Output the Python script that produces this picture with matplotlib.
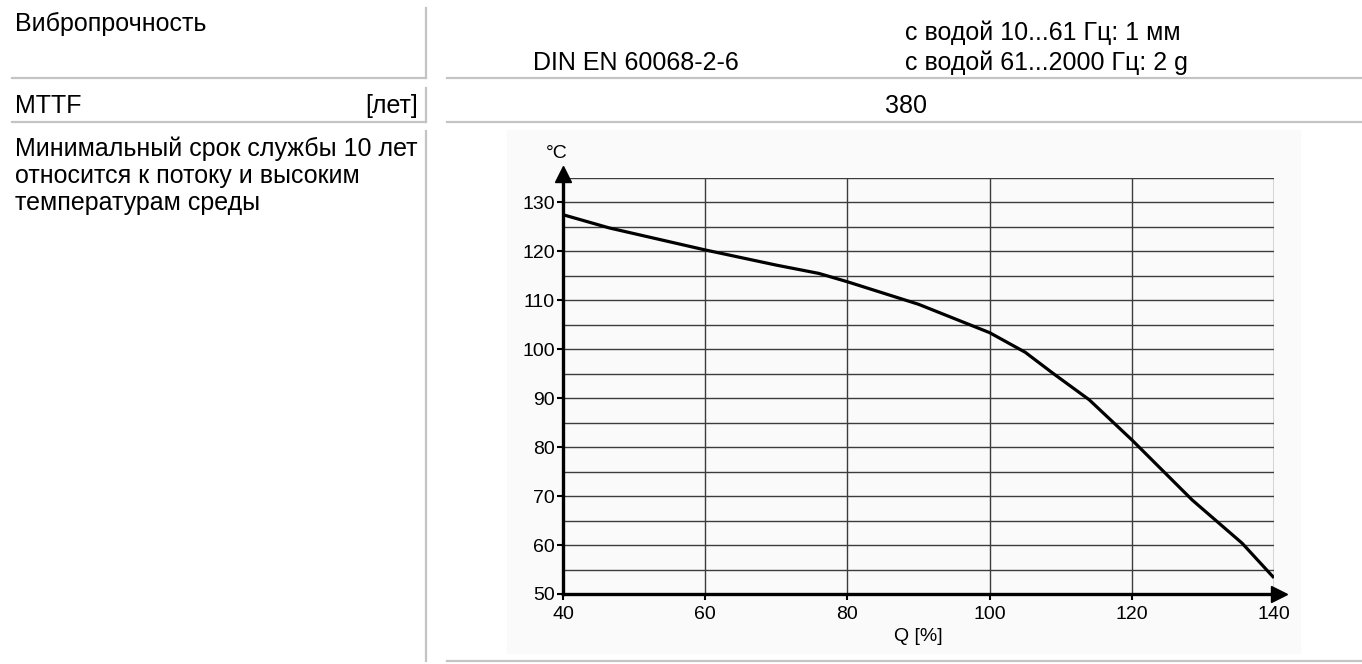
import matplotlib.pyplot as plt
from matplotlib.lines import Line2D
from matplotlib.patches import Rectangle

plt.rcParams['font.family'] = ['Liberation Sans', 'DejaVu Sans']

# curve: flow Q [%] vs medium temperature [°C]
flow = [40, 46.5, 60, 70, 76, 80, 90, 100, 105, 109, 114, 120, 128.5, 135.5, 140]
temp = [127.5, 124.8, 120.3, 117.2, 115.5, 113.8, 109.2, 103.4, 99.4, 95.0, 89.7, 81.5, 69.2, 60.4, 53.3]

x_ticks = [40, 60, 80, 100, 120, 140]
y_ticks = [50, 60, 70, 80, 90, 100, 110, 120, 130]
h_grid = [55, 60, 65, 70, 75, 80, 85, 90, 95, 100, 105, 110, 115, 120, 125, 130, 135]

note_lines = ['Минимальный срок службы 10 лет', 'относится к потоку и высоким', 'температурам среды']

W, H = 1362, 664
fig = plt.figure(figsize=(W / 100, H / 100), dpi=100)


def fx(px):
    return px / W


def fy(py):
    return 1 - py / H


def hline(x0, x1, y):
    fig.add_artist(Line2D([fx(x0), fx(x1)], [fy(y), fy(y)], color='#c4c4c4', lw=1.6))


def vline(x, y0, y1):
    fig.add_artist(Line2D([fx(x), fx(x)], [fy(y0), fy(y1)], color='#c4c4c4', lw=1.6))


# table lines
hline(12, 426, 78)
hline(447, W, 78)
hline(12, 426, 122)
hline(447, W, 122)
hline(447, W, 661)
vline(426, 8, 78)
vline(426, 88, 122)
vline(426, 131, 661)

fs = 18
fig.text(fx(15), fy(31), 'Вибропрочность', fontsize=fs, va='baseline')
fig.text(fx(533), fy(70), 'DIN EN 60068-2-6', fontsize=fs, va='baseline')
fig.text(fx(905), fy(40), 'с водой 10...61 Гц: 1 мм', fontsize=fs, va='baseline')
fig.text(fx(905), fy(70), 'с водой 61...2000 Гц: 2 g', fontsize=fs, va='baseline')
fig.text(fx(15), fy(113), 'MTTF', fontsize=fs, va='baseline')
fig.text(fx(418), fy(113), '[лет]', fontsize=fs, va='baseline', ha='right')
fig.text(fx(906), fy(113), '380', fontsize=fs, va='baseline', ha='center')
for i, line in enumerate(note_lines):
    fig.text(fx(15), fy(156 + 27 * i), line, fontsize=fs, va='baseline')

# faint picture background
fig.add_artist(Rectangle((fx(507), fy(653)), fx(1300) - fx(507), fy(130) - fy(653),
                         color='#fafafa', zorder=0))

ax = fig.add_axes([fx(563), fy(594), fx(1274) - fx(563), fy(178) - fy(594)])
ax.patch.set_alpha(0)
ax.set_xlim(40, 140)
ax.set_ylim(50, 135)

for v in h_grid:
    ax.axhline(v, color='#3c3c3c', lw=1.0, zorder=1)
for v in x_ticks[1:]:
    ax.axvline(v, color='#3c3c3c', lw=1.0, zorder=1)

ax.plot(flow, temp, color='black', lw=2.3, zorder=3, solid_capstyle='butt', solid_joinstyle='round')

for s in ['top', 'right']:
    ax.spines[s].set_visible(False)
for s in ['left', 'bottom']:
    ax.spines[s].set_linewidth(2.4)
    ax.spines[s].set_zorder(4)

ax.plot(40, 135.9, marker='^', ms=11, color='black', clip_on=False, zorder=5)
ax.plot(140.7, 50, marker='>', ms=11, color='black', clip_on=False, zorder=5)

ax.set_xticks(x_ticks)
ax.set_yticks(y_ticks)
ax.tick_params(axis='both', direction='out', length=4, width=1.5, labelsize=14, color='black')
ax.tick_params(axis='x', pad=4.5)
ax.tick_params(axis='y', pad=2)

ax.text(-0.009, 1.06, '°C', transform=ax.transAxes, fontsize=14, ha='center', va='center')
ax.text(0.5, -0.103, 'Q [%]', transform=ax.transAxes, fontsize=14, ha='center', va='center')

fig.savefig('out.png', dpi=100)
